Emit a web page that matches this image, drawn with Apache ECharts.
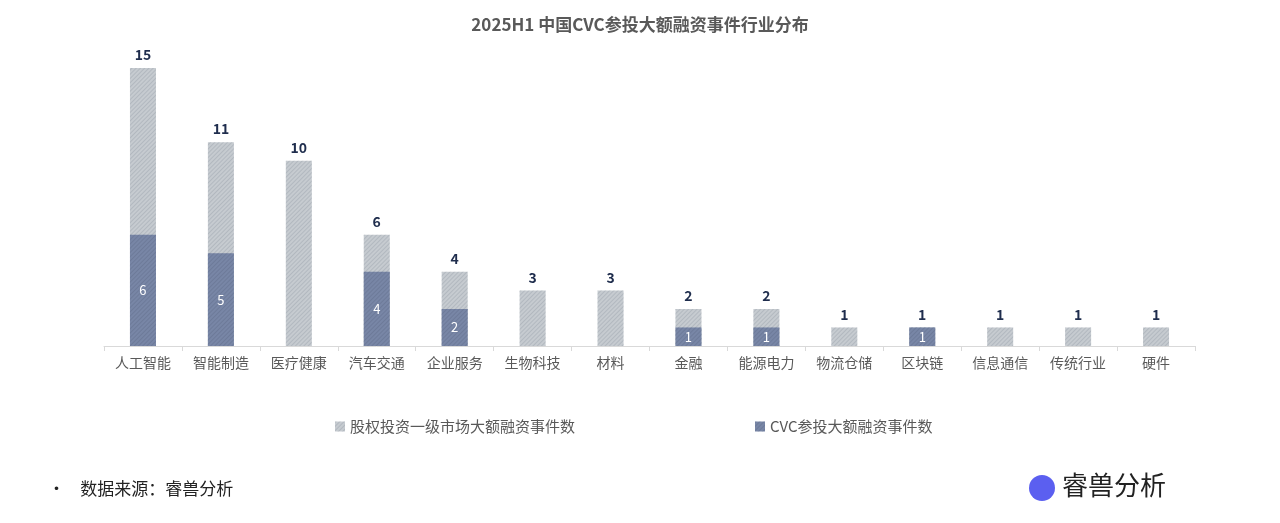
<!DOCTYPE html>
<html><head><meta charset="utf-8">
<script src="https://cdn.jsdelivr.net/npm/echarts@6/dist/echarts.min.js"></script>
<style>html,body{margin:0;background:#fff}#c{width:1280px;height:523px}</style>
</head><body><div id="c"></div>
<script>
var categories = ['人工智能','智能制造','医疗健康','汽车交通','企业服务','生物科技','材料','金融','能源电力','物流仓储','区块链','信息通信','传统行业','硬件'];
var totalEvents = [15,11,10,6,4,3,3,2,2,1,1,1,1,1];
var cvcEvents = [6,5,0,4,2,0,0,1,1,0,1,0,0,0];

var font = '"Noto Sans CJK SC", "Noto Sans", sans-serif';
var chart = echarts.init(document.getElementById('c'));
var hatch = function(c) { return { symbol: 'rect', symbolSize: 1, dashArrayX: [1, 0], dashArrayY: [1, 2], rotation: -Math.PI / 4, color: c }; };

chart.setOption({
    textStyle: { fontFamily: font },
    title: { text: '2025H1 中国CVC参投大额融资事件行业分布', left: 'center', top: 11,
        textStyle: { fontSize: 17, fontWeight: 'bold', color: '#595959' } },
    legend: { bottom: 84, itemGap: 150, itemWidth: 10, itemHeight: 10, icon: 'rect',
        textStyle: { fontSize: 15, color: '#595959', width: 0 },
        data: ['股权投资一级市场大额融资事件数', 'CVC参投大额融资事件数'] },
    grid: { left: 104, right: 85, top: 68, bottom: 177 },
    xAxis: { type: 'category', data: categories,
        axisLine: { lineStyle: { color: '#d9d9d9' } },
        axisTick: { show: true, lineStyle: { color: '#d9d9d9' } },
        axisLabel: { fontSize: 14, color: '#595959', margin: 10 } },
    yAxis: { type: 'value', min: 0, max: 15, show: false, splitLine: { show: false } },
    series: [
        { name: '股权投资一级市场大额融资事件数', type: 'bar', data: totalEvents, barWidth: 26, barGap: '-100%',
          itemStyle: { color: '#c6cbd0', decal: hatch('rgba(140,150,160,0.35)') },
          label: { show: true, position: 'top', fontSize: 14, fontWeight: 'bold', color: '#1f2d4d', distance: 6 } },
        { name: 'CVC参投大额融资事件数', type: 'bar', data: cvcEvents.map(function(v){ return v || null; }), barWidth: 26,
          itemStyle: { color: '#7886a6', decal: hatch('rgba(90,100,130,0.35)') },
          label: { show: true, position: 'inside', fontSize: 13, color: '#fff' } }
    ],
    graphic: [
        { type: 'text', left: 48, top: 480, style: { text: '•    数据来源：睿兽分析', fontSize: 17, fill: '#222', fontFamily: font } },
        { type: 'circle', shape: { cx: 1042, cy: 488, r: 13 }, style: { fill: '#5b5ff0' } },
        { type: 'text', left: 1062, top: 472, style: { text: '睿兽分析', fontSize: 26, fill: '#222', fontFamily: font } }
    ]
});
chart.setOption({ legend: { itemGap: 180, left: 330, bottom: 84 } });
</script></body></html>
